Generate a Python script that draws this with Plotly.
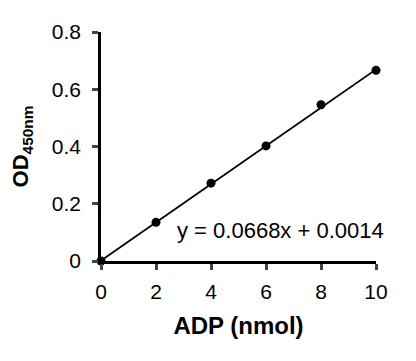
import plotly.graph_objects as go

adp_nmol = [0, 2, 4, 6, 8, 10]
od_450 = [0.0, 0.135, 0.272, 0.402, 0.546, 0.666]
slope = 0.0668
intercept = 0.0014
x_ticks = [0, 2, 4, 6, 8, 10]
y_ticks = [0, 0.2, 0.4, 0.6, 0.8]
y_tick_labels = ["0", "0.2", "0.4", "0.6", "0.8"]

fit_x = [min(adp_nmol), max(adp_nmol)]
fit_y = [slope * v + intercept for v in fit_x]

FAM = "Liberation Sans, Arial, sans-serif"

fig = go.Figure()
fig.add_trace(go.Scatter(x=fit_x, y=fit_y, mode="lines",
                         line=dict(color="black", width=1.8),
                         cliponaxis=False, hoverinfo="skip"))
fig.add_trace(go.Scatter(x=adp_nmol, y=od_450, mode="markers",
                         marker=dict(color="black", size=9),
                         cliponaxis=False))

fig.add_annotation(x=1.035, y=0.108, xref="paper", yref="y", xanchor="right", yanchor="middle",
                   text="y = 0.0668x + 0.0014", showarrow=False,
                   font=dict(family=FAM, size=22, color="black"))

fig.update_layout(
    width=416, height=361,
    margin=dict(l=93, r=48, t=24, b=108),
    paper_bgcolor="white", plot_bgcolor="white",
    showlegend=False,
    font=dict(family=FAM, size=20, color="black"),
    xaxis=dict(range=[0, 10], tickvals=x_ticks, ticks="outside", ticklen=6, tickwidth=2.5,
               showline=True, linecolor="black", linewidth=2.5, showgrid=False, zeroline=False,
               automargin=False, ticklabelstandoff=4,
               tickfont=dict(family=FAM, size=21, color="black"),
               title=dict(text="<b>ADP (nmol)</b>", standoff=16,
                          font=dict(family=FAM, size=24, color="black"))),
    yaxis=dict(range=[0, 0.8], tickvals=y_ticks, ticktext=y_tick_labels, ticks="outside",
               ticklen=6, tickwidth=2.5, automargin=False, ticklabelstandoff=7,
               showline=True, linecolor="black", linewidth=2.5, showgrid=False, zeroline=False,
               tickfont=dict(family=FAM, size=21, color="black"),
               title=dict(text="<b>OD<sub>450nm</sub></b>", standoff=18,
                          font=dict(family=FAM, size=22, color="black"))),
)

fig.write_html("out.html")
